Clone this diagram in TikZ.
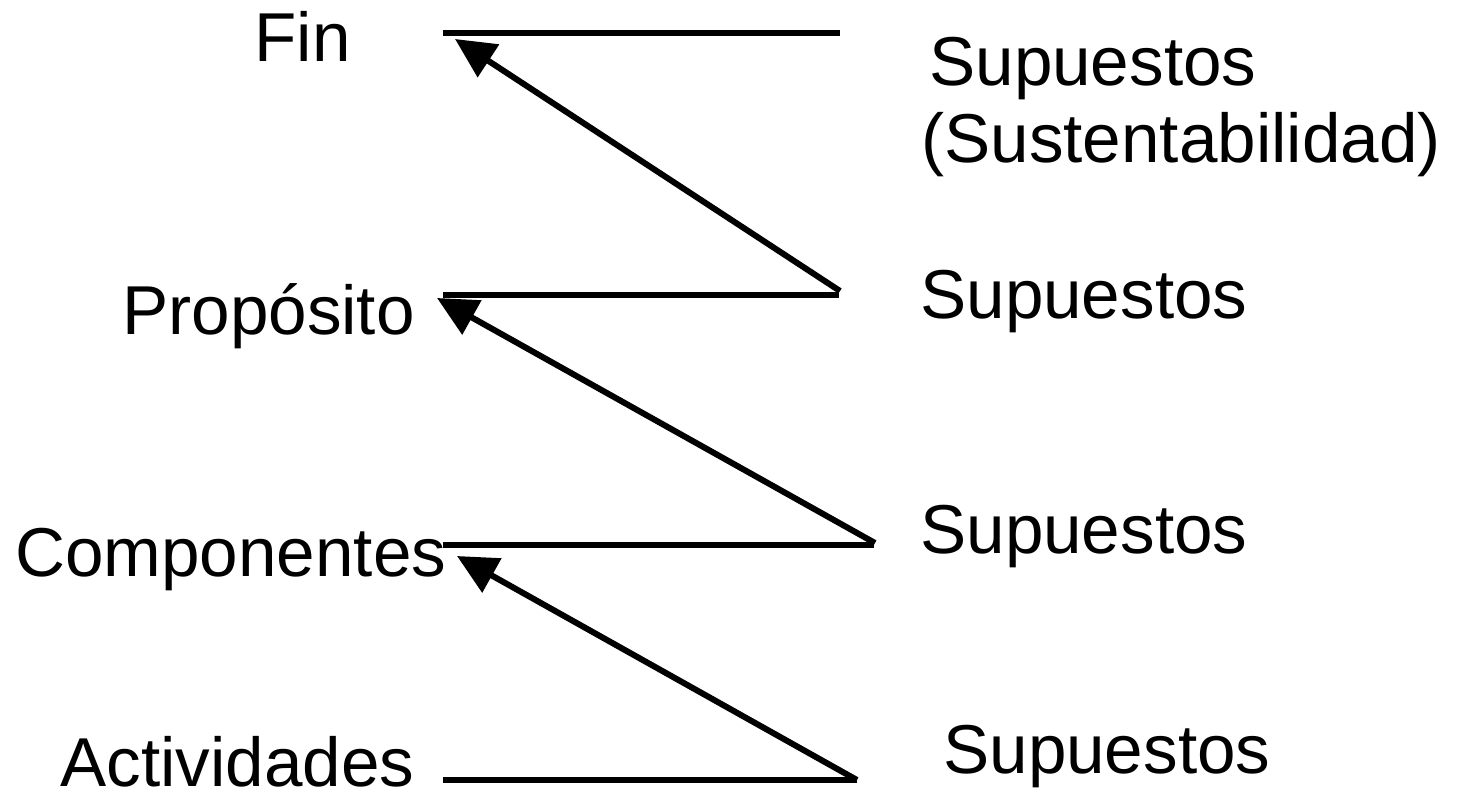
\documentclass[tikz,border=0pt]{standalone}
\usepackage{fontspec}
\setmainfont{Liberation Sans}
\usetikzlibrary{arrows.meta}
\begin{document}
\begin{tikzpicture}[x=0.5pt,y=-0.5pt,
  lbl/.style={anchor=base west,inner sep=0pt,font=\fontsize{34.6}{39}\selectfont},
  level/.style={line width=3pt},
  link/.style={line width=3pt,-{Triangle[length=20pt,width=19pt]}}]
\useasboundingbox (0,0) rectangle (1465,798);
% labels
\node[lbl] (fin) at (254,61) {Fin};
\node[lbl] (prop) at (122,334) {Propósito};
\node[lbl] (comp) at (15,576) {Componentes};
\node[lbl] (act) at (60,786) {Actividades};
\node[lbl] (s1) at (929,85) {Supuestos};
\node[lbl] (s1b) at (921,162) {(Sustentabilidad)};
\node[lbl] (s2) at (920,318) {Supuestos};
\node[lbl] (s3) at (920,553) {Supuestos};
\node[lbl] (s4) at (943,773) {Supuestos};
% coordinates
\coordinate (a1) at (443,33);  \coordinate (b1) at (840,33);
\coordinate (a2) at (443,295); \coordinate (b2) at (839,295);
\coordinate (a3) at (443,545); \coordinate (b3) at (874,545);
\coordinate (a4) at (443,780); \coordinate (b4) at (857,780);
\coordinate (t1) at (455,39);  \coordinate (f1) at (840,291);
\coordinate (t2) at (437,298); \coordinate (f2) at (875,543);
\coordinate (t3) at (457,556); \coordinate (f3) at (857,780);
% level lines
\draw[level] (a1) -- (b1);
\draw[level] (a2) -- (b2);
\draw[level] (a3) -- (b3);
\draw[level] (a4) -- (b4);
% arrows
\draw[link] (f1) -- (t1);
\draw[link] (f2) -- (t2);
\draw[link] (f3) -- (t3);
\end{tikzpicture}
\end{document}
